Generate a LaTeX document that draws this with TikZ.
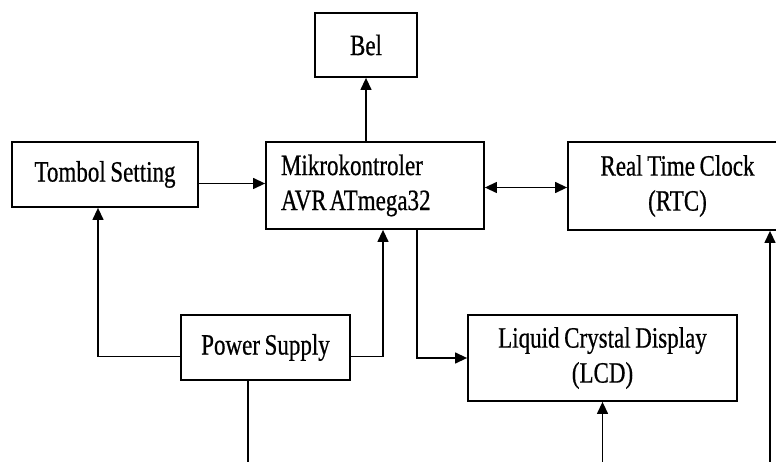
\documentclass[tikz,border=0pt]{standalone}
\usepackage{fontspec}
\setmainfont{Liberation Serif}[FakeStretch=0.78, FakeBold=0.6, WordSpace=0.8]
\usetikzlibrary{arrows.meta}
\begin{document}
\begin{tikzpicture}[x=1pt, y=-1pt,
  font=\fontsize{29.5}{35}\selectfont,
  block/.style={draw, line width=1.8pt, inner sep=0pt, align=center},
  arr/.style={line width=1.3pt, -{Triangle[length=12pt,width=11pt]}},
  link/.style={line width=1.3pt}]
  \clip (0,0) rectangle (776,462);
  % blocks
  \node[block, minimum width=102pt, minimum height=64pt] (bel) at (366,45) {Bel};
  \node[block, minimum width=186pt, minimum height=65pt] (tombol) at (105,174.5) {Tombol Setting};
  \node[block, minimum width=218pt, minimum height=87pt, text width=188pt, align=left, inner xsep=15pt] (mikro) at (375,185.5) {Mikrokontroler\\AVR\hspace{3pt}ATmega32};
  \node[block, minimum width=219pt, minimum height=88pt] (rtc) at (677.5,186) {Real Time Clock\\(RTC)};
  \node[block, minimum width=169pt, minimum height=65pt] (power) at (265.5,347.5) {Power Supply};
  \node[block, minimum width=269pt, minimum height=86pt] (lcd) at (602.5,358) {Liquid Crystal Display\\(LCD)};
  % free ends at the bottom edge
  \coordinate (psout) at (248,462);
  \coordinate (lcdin) at (602.5,462);
  \coordinate (rtcin) at (770,462);
  % connectors
  \draw[arr] (bel.south |- mikro.north) -- (bel.south);
  \draw[arr] ([yshift=-9pt]tombol.east) -- ([yshift=-9pt]tombol.east -| mikro.west);
  \draw[line width=1.3pt, {Triangle[length=12pt,width=11pt]}-{Triangle[length=12pt,width=11pt]}] ([yshift=-2pt]mikro.east) -- ([yshift=-2pt]mikro.east -| rtc.west);
  \draw[arr] ([yshift=-9pt]power.west) -| ([xshift=-7pt]tombol.south);
  \draw[arr] ([yshift=-9pt]power.east) -| (383,0 |- mikro.south);
  \draw[arr] (417,0 |- mikro.south) |- (lcd.west);
  \draw[link] (psout) -- (psout |- power.south);
  \draw[arr] (lcdin) -- (lcd.south);
  \draw[arr] (rtcin) -- (rtcin |- rtc.south);
\end{tikzpicture}
\end{document}
